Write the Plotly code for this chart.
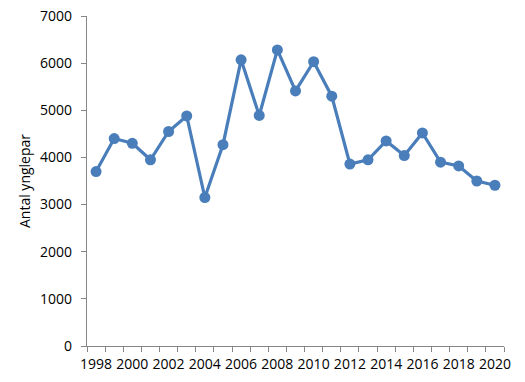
import plotly.graph_objects as go

years = list(range(1998, 2021))
pairs = [3700, 4400, 4300, 3950, 4550, 4880, 3150, 4270, 6070, 4890, 6280, 5410,
         6030, 5300, 3860, 3950, 4350, 4040, 4520, 3900, 3820, 3500, 3410]
x_ticks = list(range(1998, 2021, 2))
y_ticks = list(range(0, 7001, 1000))

color = "#4A7EBB"
axis_color = "#868686"
font = "Open Sans"

fig = go.Figure()
fig.add_trace(go.Scatter(
    x=years, y=pairs, mode="lines+markers",
    line=dict(color=color, width=3.2),
    marker=dict(color=color, size=11),
    showlegend=False,
    cliponaxis=False,
))

fig.update_layout(
    width=525, height=382,
    margin=dict(l=87, r=21, t=16, b=36),
    paper_bgcolor="white", plot_bgcolor="white",
    font=dict(family=font, size=14, color="#000000"),
)
fig.update_xaxes(
    automargin=False,
    range=[1997.5, 2020.5],
    tickvals=x_ticks, ticktext=[str(v) for v in x_ticks],
    ticks="", showgrid=False, zeroline=False,
    showline=True, linecolor=axis_color, linewidth=1.3,
    tickfont=dict(size=14, family=font),
    ticklabelstandoff=5,
    ticklabeloverflow="allow",
    minor=dict(ticks="outside", tick0=1997.5, dtick=1, ticklen=5,
               tickcolor=axis_color, tickwidth=1.3, showgrid=False),
)
fig.update_yaxes(
    automargin=False,
    range=[0, 7000], tickvals=y_ticks,
    ticks="outside", ticklen=5, tickcolor=axis_color, tickwidth=1.3,
    showgrid=False, zeroline=False,
    showline=True, linecolor=axis_color, linewidth=1.3,
    tickfont=dict(size=14, family=font),
    ticklabelstandoff=6,
    ticklabeloverflow="allow",
    title=dict(text="Antal ynglepar", font=dict(size=14, family=font), standoff=6),
)

fig.write_html("out.html", config={"displayModeBar": False},
               post_script="document.body.style.margin='0px';")
